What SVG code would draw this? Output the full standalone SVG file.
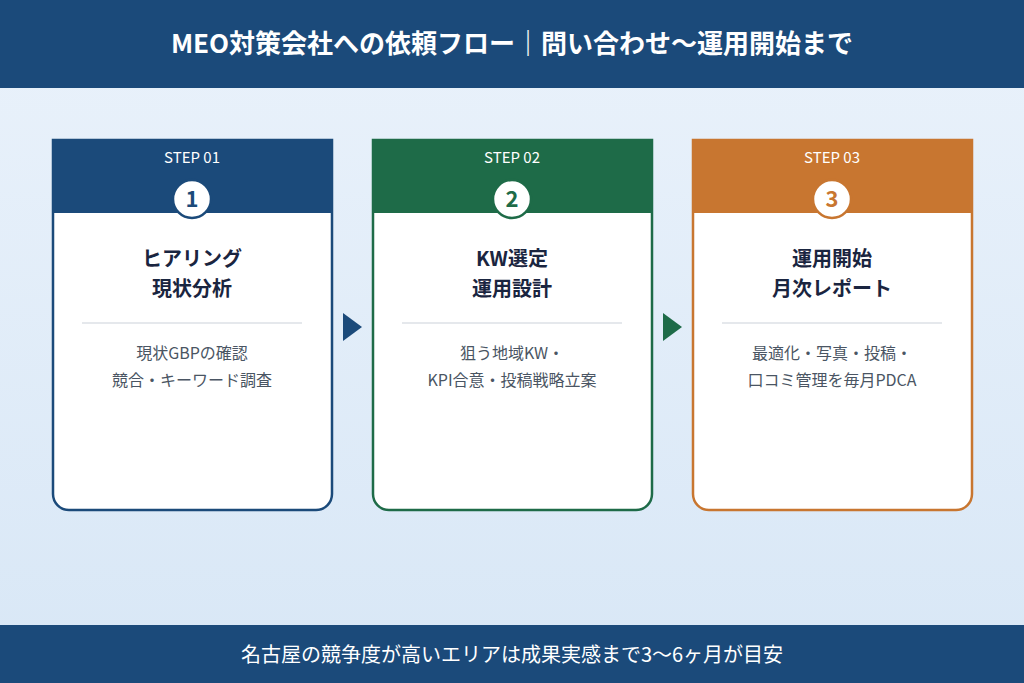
<svg xmlns="http://www.w3.org/2000/svg" width="1024" height="683" viewBox="0 0 1024 683">
<defs>
<linearGradient id="bg" x1="0" y1="0" x2="0" y2="1"><stop offset="0" stop-color="#eaf2fb"/><stop offset="1" stop-color="#d8e7f6"/></linearGradient>
<style>
text{font-family:"Noto Sans CJK JP","Noto Sans",sans-serif;text-anchor:middle}
.hd{fill:#fff;font-size:15px}
.num{font-size:22px;font-weight:bold}
.tt{fill:#1a2540;font-size:20px;font-weight:bold}
.ds{fill:#4a5563;font-size:16px}
.sep{stroke:#dde1e6;stroke-width:1.5}
</style>
</defs>
<rect width="1024" height="683" fill="url(#bg)"/>
<rect width="1024" height="88" fill="#1b4a7a"/>
<text x="512" y="53" fill="#fff" font-size="26" font-weight="bold">MEO対策会社への依頼フロー｜問い合わせ〜運用開始まで</text>
<g id="step1">
<path d="M53,140H332V494A16,16 0 0 1 316,510H69A16,16 0 0 1 53,494Z" fill="#fff" stroke="#1b4a7a" stroke-width="2.5"/>
<rect x="53" y="140" width="279" height="73" fill="#1b4a7a"/>
<text class="hd" x="192" y="163">STEP 01</text>
<circle cx="192" cy="199" r="19" fill="#fff" stroke="#1b4a7a" stroke-width="2.5"/>
<text class="num" x="192" y="207" fill="#1b4a7a">1</text>
<text class="tt" x="192" y="266">ヒアリング</text>
<text class="tt" x="192" y="296">現状分析</text>
<line class="sep" x1="82" y1="323" x2="302" y2="323"/>
<text class="ds" x="192" y="359">現状GBPの確認</text>
<text class="ds" x="192" y="386">競合・キーワード調査</text>
</g>
<g id="step2">
<path d="M373,140H652V494A16,16 0 0 1 636,510H389A16,16 0 0 1 373,494Z" fill="#fff" stroke="#1e6b48" stroke-width="2.5"/>
<rect x="373" y="140" width="279" height="73" fill="#1e6b48"/>
<text class="hd" x="512" y="163">STEP 02</text>
<circle cx="512" cy="199" r="19" fill="#fff" stroke="#1e6b48" stroke-width="2.5"/>
<text class="num" x="512" y="207" fill="#1e6b48">2</text>
<text class="tt" x="512" y="266">KW選定</text>
<text class="tt" x="512" y="296">運用設計</text>
<line class="sep" x1="402" y1="323" x2="622" y2="323"/>
<text class="ds" x="512" y="359">狙う地域KW・</text>
<text class="ds" x="512" y="386">KPI合意・投稿戦略立案</text>
</g>
<g id="step3">
<path d="M693,140H972V494A16,16 0 0 1 956,510H709A16,16 0 0 1 693,494Z" fill="#fff" stroke="#c87630" stroke-width="2.5"/>
<rect x="693" y="140" width="279" height="73" fill="#c87630"/>
<text class="hd" x="832" y="163">STEP 03</text>
<circle cx="832" cy="199" r="19" fill="#fff" stroke="#c87630" stroke-width="2.5"/>
<text class="num" x="832" y="207" fill="#c87630">3</text>
<text class="tt" x="832" y="266">運用開始</text>
<text class="tt" x="832" y="296">月次レポート</text>
<line class="sep" x1="722" y1="323" x2="942" y2="323"/>
<text class="ds" x="832" y="359">最適化・写真・投稿・</text>
<text class="ds" x="832" y="386">口コミ管理を毎月PDCA</text>
</g>
<g id="connectors">
<polygon points="343,313 362,327 343,341" fill="#1b4a7a"/>
<polygon points="663,313 682,327 663,341" fill="#1e6b48"/>
</g>
<rect y="625" width="1024" height="58" fill="#1b4a7a"/>
<text x="512" y="662" fill="#fff" font-size="20">名古屋の競争度が高いエリアは成果実感まで3〜6ヶ月が目安</text>
</svg>
